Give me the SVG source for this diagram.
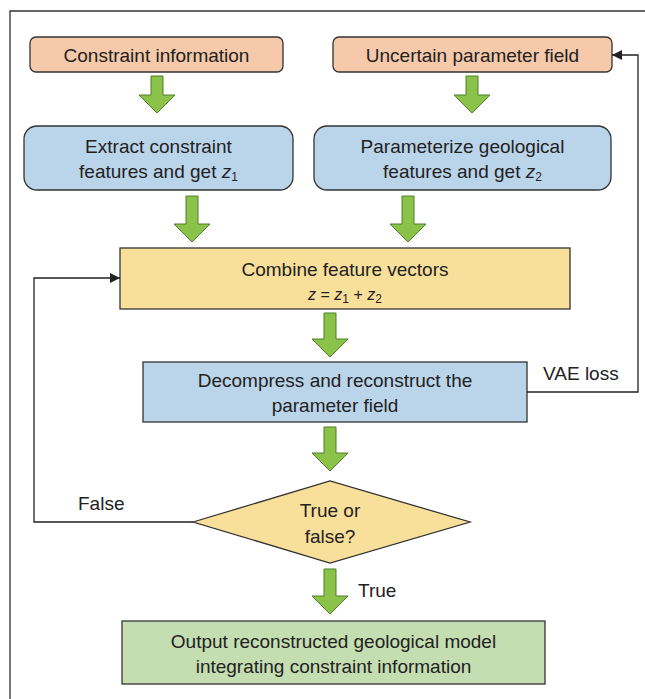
<svg xmlns="http://www.w3.org/2000/svg" width="645" height="699" viewBox="0 0 645 699">
<defs>
<marker id="ah" viewBox="0 0 10 10" refX="10" refY="5" markerWidth="10" markerHeight="10" markerUnits="userSpaceOnUse" orient="auto"><path d="M0,0 L10,5 L0,10 Z" fill="#222"/></marker>
</defs>
<style>
.t{font-family:"Liberation Sans",Arial,sans-serif;font-size:19px;fill:#222;text-anchor:middle}
.l{font-family:"Liberation Sans",Arial,sans-serif;font-size:19px;fill:#222}
.i{font-style:italic}
.s{font-size:12px}
.box{stroke:#333;stroke-width:1.3}
.salmon{fill:#F5C9A9}
.blue{fill:#BAD4EA}
.yellow{fill:#F8DF9A}
.green{fill:#C4DDB1}
.ga{fill:#8BC34A;stroke:#4E7F26;stroke-width:1}
.ln{fill:none;stroke:#222;stroke-width:1.3}
</style>
<rect width="645" height="699" fill="#fff"/>
<path d="M10,699 V11 H645" fill="none" stroke="#333" stroke-width="1.3"/>

<g id="constraint">
<rect class="box salmon" x="30" y="37" width="253" height="35" rx="6"/>
<text class="t" x="156.5" y="62">Constraint information</text>
</g>
<g id="uncertain">
<rect class="box salmon" x="333" y="37" width="279" height="35" rx="6"/>
<text class="t" x="472.5" y="62">Uncertain parameter field</text>
</g>
<g id="extract">
<rect class="box blue" x="24" y="126" width="269" height="64" rx="13"/>
<text class="t" x="158.5" y="153">Extract constraint</text>
<text class="t" x="158.5" y="178">features and get <tspan class="i">z</tspan><tspan class="s" dy="3">1</tspan></text>
</g>
<g id="parameterize">
<rect class="box blue" x="314" y="126" width="297" height="64" rx="13"/>
<text class="t" x="462.5" y="153">Parameterize geological</text>
<text class="t" x="462.5" y="178">features and get <tspan class="i">z</tspan><tspan class="s" dy="3">2</tspan></text>
</g>
<g id="combine">
<rect class="box yellow" x="120" y="248" width="450" height="61"/>
<text class="t" x="345" y="276">Combine feature vectors</text>
<text class="t" x="345" y="300" style="font-size:16px"><tspan class="i">z</tspan> = <tspan class="i">z</tspan><tspan class="s" dy="3">1</tspan><tspan dy="-3"> + </tspan><tspan class="i">z</tspan><tspan class="s" dy="3">2</tspan></text>
</g>
<g id="decompress">
<rect class="box blue" x="143" y="362" width="384" height="60"/>
<text class="t" x="335" y="387">Decompress and reconstruct the</text>
<text class="t" x="335" y="412">parameter field</text>
</g>
<g id="decision">
<path class="box yellow" d="M193,522 L330,481 L470,522 L330,563 Z"/>
<text class="t" x="330" y="517">True or</text>
<text class="t" x="330" y="543">false?</text>
</g>
<g id="output">
<rect class="box green" x="122" y="621" width="423" height="63"/>
<text class="t" x="333.5" y="648">Output reconstructed geological model</text>
<text class="t" x="333.5" y="673">integrating constraint information</text>
</g>

<g id="connectors">
<path class="ga" d="M151,76 H163 V95 H175 L157,113 L139,95 H151 Z"/>
<path class="ga" d="M466,76 H478 V95 H490 L472,113 L454,95 H466 Z"/>
<path class="ga" d="M186,196 H198 V224 H210 L192,242 L174,224 H186 Z"/>
<path class="ga" d="M402,196 H414 V224 H426 L408,242 L390,224 H402 Z"/>
<path class="ga" d="M324,313 H336 V339 H348 L330,357 L312,339 H324 Z"/>
<path class="ga" d="M324,427 H336 V453 H348 L330,471 L312,453 H324 Z"/>
<path class="ga" d="M324,569 H336 V596 H348 L330,614 L312,596 H324 Z"/>
<path class="ln" d="M527,392 H638 V55 H612" marker-end="url(#ah)"/>
<path class="ln" d="M193,522 H34 V278 H120" marker-end="url(#ah)"/>
<text class="l" x="543" y="380">VAE loss</text>
<text class="l" x="78" y="510">False</text>
<text class="l" x="358" y="597">True</text>
</g>
</svg>
